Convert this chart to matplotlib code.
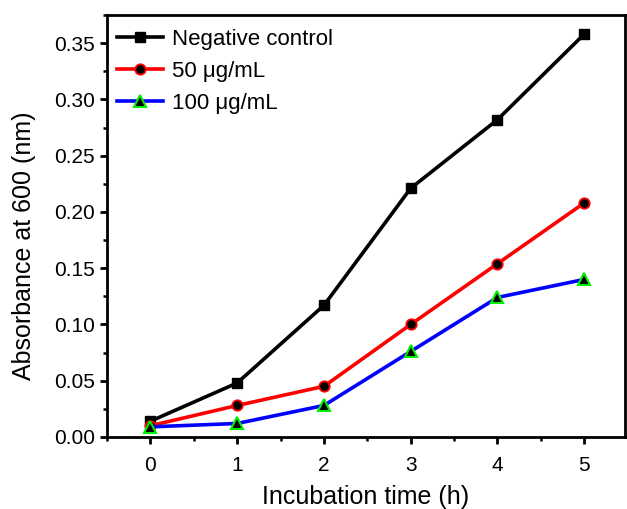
import matplotlib
matplotlib.use("Agg")
import matplotlib.pyplot as plt
from matplotlib.ticker import MultipleLocator, FormatStrFormatter

plt.rcParams['font.family'] = ['Liberation Sans', 'DejaVu Sans']

hours = [0, 1, 2, 3, 4, 5]
negative_control = [0.014, 0.048, 0.117, 0.221, 0.282, 0.358]
conc_50 = [0.010, 0.028, 0.045, 0.100, 0.154, 0.208]
conc_100 = [0.009, 0.012, 0.028, 0.076, 0.124, 0.140]
labels = ["Negative control", "50 μg/mL", "100 μg/mL"]

fig = plt.figure(figsize=(6.27, 5.09), dpi=100)
ax = fig.add_axes([0.1707, 0.1415, 0.8261, 0.829])

ax.plot(hours, negative_control, color='black', lw=2.6, marker='s', ms=7.5,
        mfc='black', mec='black', label=labels[0])
ax.plot(hours, conc_50, color='#ff0000', lw=2.6, marker='o', ms=7.5,
        mfc='black', mec='#ff0000', mew=1.3, label=labels[1])
ax.plot(hours, conc_100, color='#0000ff', lw=2.6, marker='^', ms=8,
        mfc='black', mec='#00ee00', mew=1.5, label=labels[2])

ax.set_xlim(-0.5, 5.47)
ax.set_ylim(0, 0.375)
ax.xaxis.set_major_locator(MultipleLocator(1))
ax.xaxis.set_minor_locator(MultipleLocator(0.5))
ax.yaxis.set_major_locator(MultipleLocator(0.05))
ax.yaxis.set_minor_locator(MultipleLocator(0.025))
ax.yaxis.set_major_formatter(FormatStrFormatter('%.2f'))

ax.tick_params(which='major', direction='out', length=5, width=2.0, labelsize=15)
ax.tick_params(which='minor', direction='out', length=3, width=1.8)
ax.tick_params(axis='x', which='major', pad=8.5)
ax.tick_params(axis='y', which='major', pad=3.5)
for s in ax.spines.values():
    s.set_linewidth(2.0)

ax.set_xlabel("Incubation time (h)", fontsize=18)
ax.set_ylabel("Absorbance at 600 (nm)", fontsize=18)
ax.xaxis.set_label_coords(0.5, -0.113)
ax.yaxis.set_label_coords(-0.138, 0.453)

leg = ax.legend(loc='upper left', frameon=False, fontsize=16, handlelength=2.1,
                handletextpad=0.4, labelspacing=0.5, borderaxespad=0.0,
                borderpad=0.3, bbox_to_anchor=(0.006, 0.983))

fig.savefig("out.png", dpi=100)
